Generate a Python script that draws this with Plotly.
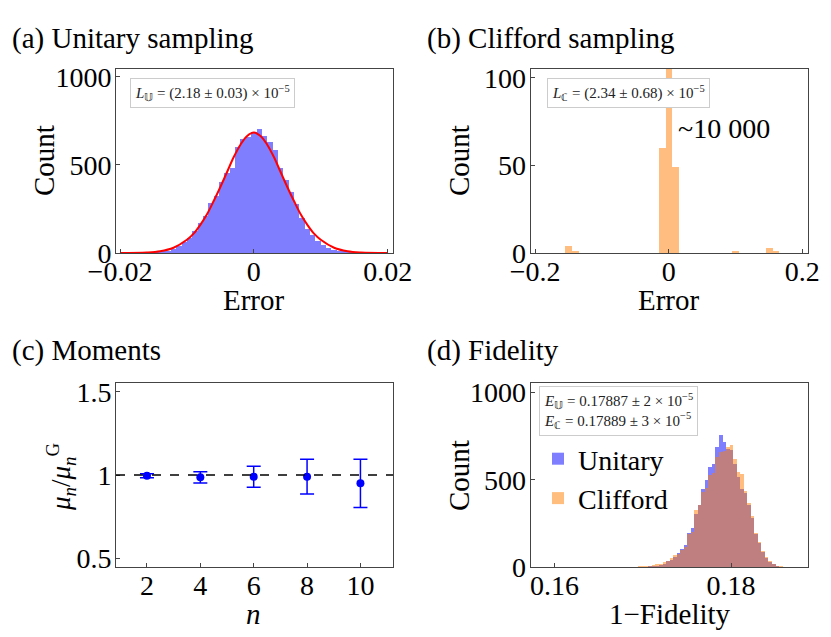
import plotly.graph_objects as go

# (a) unitary sampling histogram, bin width 0.0008, centres at k*0.0008
a_bin = 0.0008
a_k = list(range(-20, 21))
a_counts = [1, 3, 5, 8, 14, 22, 38, 60, 86, 124, 168, 212, 285, 322, 405, 455, 485, 600, 645, 658,
            686, 702, 662, 628, 585, 485, 415, 345, 280, 198, 138, 104, 66, 45, 28, 18, 11, 7, 4, 2, 1]
# red fit curve
a_fit_x = [-0.020, -0.016, -0.014, -0.012, -0.010, -0.009, -0.008, -0.007, -0.006, -0.005, -0.004,
           -0.003, -0.002, -0.001, 0.0, 0.001, 0.002, 0.003, 0.004, 0.005, 0.006, 0.007, 0.008,
           0.009, 0.010, 0.012, 0.014, 0.016, 0.020]
a_fit_y = [0, 3, 10, 30, 75, 110, 160, 220, 295, 375, 460, 545, 615, 665, 685, 665, 615, 545, 460,
           375, 295, 220, 160, 110, 75, 30, 10, 3, 0]

# (b) Clifford sampling histogram, bin width 0.01
b_bin = 0.01
b_x = [-0.15, -0.14, -0.01, 0.0, 0.01, 0.10, 0.15, 0.16]
b_counts = [4, 1, 60, 9880, 49, 1, 3, 1]

# (c) moments
c_n = [2, 4, 6, 8, 10]
c_ratio = [0.996, 0.986, 0.99, 0.99, 0.95]
c_err = [0.012, 0.034, 0.063, 0.104, 0.145]

# (d) fidelity histograms, bin width 0.0004, centres at 0.18 + k*0.0004
d_bin = 0.0004
d_k = list(range(-30, 17))
d_unitary = [0, 0, 0, 0, 1, 1, 2, 4, 6, 10, 15, 22, 35, 45, 62, 85, 105, 130, 195, 225,
             305, 360, 450, 500, 575, 590, 690, 756, 720, 680, 672, 590, 520, 450, 425, 355,
             285, 190, 138, 88, 55, 32, 18, 8, 3, 1, 0]
d_clifford = [2, 2, 3, 3, 4, 6, 8, 10, 14, 18, 22, 30, 40, 55, 70, 80, 100, 120, 190, 205,
              330, 360, 430, 455, 530, 540, 630, 661, 665, 690, 700, 620, 548, 535, 440, 370,
              295, 200, 145, 95, 60, 40, 22, 12, 6, 3, 1]

blue = "rgb(0,0,255)"
orange = "rgb(255,127,0)"
font = "Liberation Serif"
W, H = 831, 637
OFF = 8  # page body margin

fig = go.Figure()

a_x = [k * a_bin for k in a_k]
fig.add_trace(go.Bar(x=a_x, y=a_counts, width=a_bin, marker=dict(color=blue, line=dict(width=0)),
                     opacity=0.5, showlegend=False, xaxis="x", yaxis="y"))
fig.add_trace(go.Scatter(x=a_fit_x, y=a_fit_y, mode="lines", line=dict(color="red", width=2, shape="spline"),
                         showlegend=False, xaxis="x", yaxis="y"))

fig.add_trace(go.Bar(x=b_x, y=b_counts, width=b_bin, marker=dict(color=orange, line=dict(width=0)),
                     opacity=0.5, showlegend=False, xaxis="x2", yaxis="y2"))

fig.add_trace(go.Scatter(x=c_n, y=c_ratio, mode="markers",
                         marker=dict(color=blue, size=8),
                         error_y=dict(type="data", array=c_err, color=blue, thickness=1.5, width=7),
                         showlegend=False, xaxis="x3", yaxis="y3"))

d_x = [0.18 + k * d_bin for k in d_k]
fig.add_trace(go.Bar(x=d_x, y=d_unitary, width=d_bin, name="Unitary",
                     marker=dict(color=blue, line=dict(width=0)), opacity=0.5, xaxis="x4", yaxis="y4"))
fig.add_trace(go.Bar(x=d_x, y=d_clifford, width=d_bin, name="Clifford",
                     marker=dict(color=orange, line=dict(width=0)), opacity=0.5, xaxis="x4", yaxis="y4"))


def px_x(p):
    return (p - OFF) / W


def px_y(p):
    return 1 - (p - OFF) / H


def ax(domain, rng, tickvals, ticktext, anchor, standoff):
    return dict(domain=domain, range=rng, tickvals=tickvals, ticktext=ticktext, anchor=anchor,
                showline=True, mirror=True, linecolor="#444", linewidth=1, automargin=False,
                ticks="inside", ticklen=4, tickcolor="#444", showgrid=False, zeroline=False,
                ticklabelstandoff=standoff,
                tickfont=dict(family=font, size=28, color="black"))


col1 = [px_x(116), px_x(393)]
col2 = [px_x(530.7), px_x(807.7)]
row1 = [px_y(253), px_y(69)]
row2 = [px_y(567.3), px_y(382.7)]

fig.update_layout(
    width=W, height=H, margin=dict(l=0, r=0, t=0, b=0, pad=0, autoexpand=False),
    paper_bgcolor="white", plot_bgcolor="white",
    barmode="overlay", bargap=0,
    font=dict(family=font, color="black"),
    xaxis=ax(col1, [-0.0206, 0.0208], [-0.02, 0, 0.02], ["\u22120.02", "0", "0.02"], "y", -7),
    yaxis=ax(row1, [0, 1045], [0, 500, 1000], ["0", "500", "1000"], "x", -2),
    xaxis2=ax(col2, [-0.2065, 0.208], [-0.2, 0, 0.2], ["\u22120.2", "0", "0.2"], "y2", -7),
    yaxis2=ax(row1, [0, 105], [0, 50, 100], ["0", "50", "100"], "x2", -2),
    xaxis3=ax(col1, [0.84, 11.22], c_n, [str(n) for n in c_n], "y3", -7),
    yaxis3=ax(row2, [0.446, 1.554], [0.5, 1, 1.5], ["0.5", "1", "1.5"], "x3", -2),
    xaxis4=ax(col2, [0.1573, 0.18868], [0.16, 0.18], ["0.16", "0.18"], "y4", -7),
    yaxis4=ax(row2, [0, 1055], [0, 500, 1000], ["0", "500", "1000"], "x4", -2),
    legend=dict(x=px_x(538), y=px_y(434), xanchor="left", yanchor="top",
                bgcolor="rgba(0,0,0,0)", font=dict(family=font, size=28), tracegroupgap=0),
)

fig.add_shape(type="line", xref="x3 domain", yref="y3", x0=0, x1=1, y0=1, y1=1,
              line=dict(color="black", width=1.5, dash="dash"))

notes = [
    ("(a) Unitary sampling", 10, 39, 29, "left", 0),
    ("(b) Clifford sampling", 425, 39, 29, "left", 0),
    ("(c) Moments", 10, 350, 29, "left", 0),
    ("(d) Fidelity", 425, 350, 29, "left", 0),
    ("Count", 44, 161, 29, "center", -90),
    ("Count", 459, 161, 29, "center", -90),
    ("Count", 459, 476, 29, "center", -90),
    ("Error", 254, 300, 29, "center", 0),
    ("Error", 669, 300, 29, "center", 0),
    ("<i>n</i>", 253, 614, 29, "center", 0),
    ("1\u2212Fidelity", 670, 614, 29, "center", 0),
    ("<i>\u03bc<sub>n</sub></i>/<i>\u03bc<sub>n</sub></i><sup>G</sup>", 61, 477, 27, "center", -90),
    ("~10 000", 724, 128, 28, "center", 0),
]
for text, x, y, size, xa, ang in notes:
    fig.add_annotation(text=text, x=px_x(x), y=px_y(y), xref="paper", yref="paper",
                       xanchor=xa, yanchor="middle", showarrow=False, textangle=ang,
                       font=dict(family=font, size=size, color="black"))

boxes = [
    ("<i>L</i><sub>\U0001D54C</sub> = (2.18 \u00b1 0.03) \u00d7 10<sup>\u22125</sup>", 212, 92.5, 15),
    ("<i>L</i><sub>\u2102</sub> = (2.34 \u00b1 0.68) \u00d7 10<sup>\u22125</sup>", 628.5, 93, 15),
    ("<i>E</i><sub>\U0001D54C</sub> = 0.17887 \u00b1 2 \u00d7 10<sup>\u22125</sup><br>"
     "<i>E</i><sub>\u2102</sub> = 0.17889 \u00b1 3 \u00d7 10<sup>\u22125</sup>", 618.7, 411, 15),
]
for text, x, y, size in boxes:
    fig.add_annotation(text=text, x=px_x(x), y=px_y(y), xref="paper", yref="paper",
                       xanchor="center", yanchor="middle", showarrow=False, align="left",
                       bgcolor="white", bordercolor="#cccccc", borderwidth=1, borderpad=4,
                       font=dict(family=font, size=size, color="#222"))

fig.write_html("out.html")
